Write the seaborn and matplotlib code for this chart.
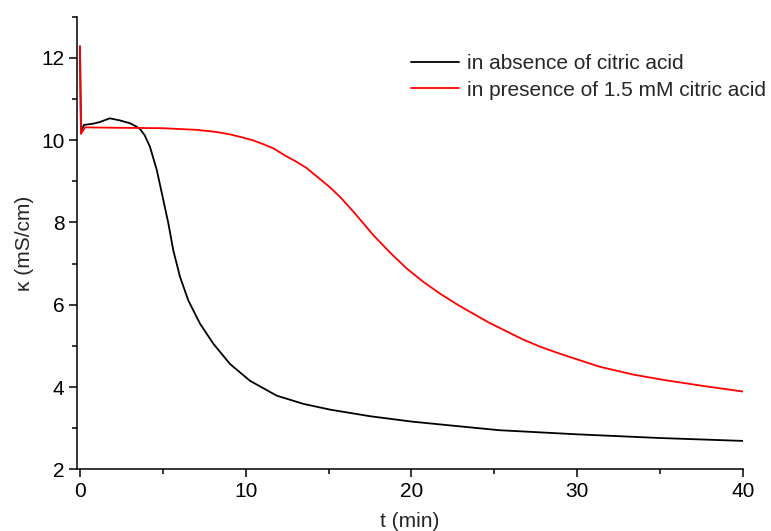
import matplotlib
matplotlib.use("Agg")
import matplotlib.pyplot as plt
import seaborn as sns
import pandas as pd
from matplotlib.ticker import MultipleLocator

# ---- data ----
t_black = [0, 0.06, 0.24, 0.8, 1.2, 1.8, 2.4, 3.02, 3.4, 3.62, 3.9, 4.22, 4.63,
           5.03, 5.33, 5.63, 6.04, 6.54, 7.24, 8.05, 9.05, 10.26, 11.87, 13.48,
           15.09, 17.5, 20, 22.5, 25.3, 30, 35, 40]
k_black = [12.28, 10.21, 10.37, 10.40, 10.44, 10.53, 10.48, 10.41, 10.33, 10.27,
           10.12, 9.84, 9.28, 8.54, 7.98, 7.32, 6.67, 6.10, 5.54, 5.05, 4.56, 4.15,
           3.79, 3.59, 3.45, 3.29, 3.16, 3.06, 2.95, 2.85, 2.76, 2.69]

t_red = [0, 0.06, 0.3, 2.4, 5, 7.04, 8.2, 9.05, 9.66, 10.4, 11.07, 11.67, 12.4,
         13.08, 13.68, 14.4, 15.09, 15.69, 16.5, 17.7, 18.7, 19.71, 20.7, 21.72,
         22.7, 23.73, 24.7, 25.75, 26.7, 27.76, 28.8, 29.77, 31.38, 33.4, 35.4,
         37.7, 40]
k_red = [12.28, 10.15, 10.31, 10.30, 10.29, 10.25, 10.20, 10.14, 10.08, 10.0, 9.90,
         9.80, 9.62, 9.47, 9.32, 9.08, 8.85, 8.62, 8.26, 7.69, 7.27, 6.88, 6.56,
         6.27, 6.02, 5.78, 5.56, 5.35, 5.16, 4.98, 4.83, 4.70, 4.49, 4.30, 4.16,
         4.02, 3.89]

series_names = ["in absence of citric acid", "in presence of 1.5 mM citric acid"]
series_colors = ["#000000", "#ff0000"]

x_label = "t (min)"
y_label = "κ (mS/cm)"

df = pd.concat([
    pd.DataFrame({"t": t_black, "k": k_black, "series": series_names[0]}),
    pd.DataFrame({"t": t_red, "k": k_red, "series": series_names[1]}),
], ignore_index=True)

sns.set_style("ticks")
plt.rcParams["font.family"] = ["Liberation Sans", "DejaVu Sans"]

fig = plt.figure(figsize=(7.71, 5.31), dpi=100)
ax = fig.add_axes([77 / 771, 1 - 469.3 / 531, (743 - 77) / 771, (469.3 - 16.7) / 531])

sns.lineplot(data=df, x="t", y="k", hue="series", hue_order=series_names,
             palette=dict(zip(series_names, series_colors)), linewidth=1.3,
             sort=False, estimator=None, ax=ax)

ax.set_xlim(-0.18, 40)
ax.set_ylim(2, 13)
ax.xaxis.set_major_locator(MultipleLocator(10))
ax.xaxis.set_minor_locator(MultipleLocator(5))
ax.yaxis.set_major_locator(MultipleLocator(2))
ax.yaxis.set_minor_locator(MultipleLocator(1))

for s in ["top", "right"]:
    ax.spines[s].set_visible(False)
for s in ["left", "bottom"]:
    ax.spines[s].set_linewidth(1.1)
    ax.spines[s].set_color("black")

ax.tick_params(which="major", direction="out", length=6, width=1.1, labelsize=15,
               colors="black", pad=3)
ax.tick_params(which="minor", direction="out", length=3.5, width=1.1, colors="black")

ax.set_xlabel(x_label, fontsize=15, labelpad=8)
ax.set_ylabel(y_label, fontsize=15, labelpad=5)

leg = ax.legend(loc="upper left", bbox_to_anchor=(403 / 771, 1 - 46 / 531),
                bbox_transform=fig.transFigure, frameon=False,
                fontsize=15, handlelength=2.3, handletextpad=0.35,
                labelspacing=0.35, borderaxespad=0)

fig.savefig("out.png", dpi=100)
